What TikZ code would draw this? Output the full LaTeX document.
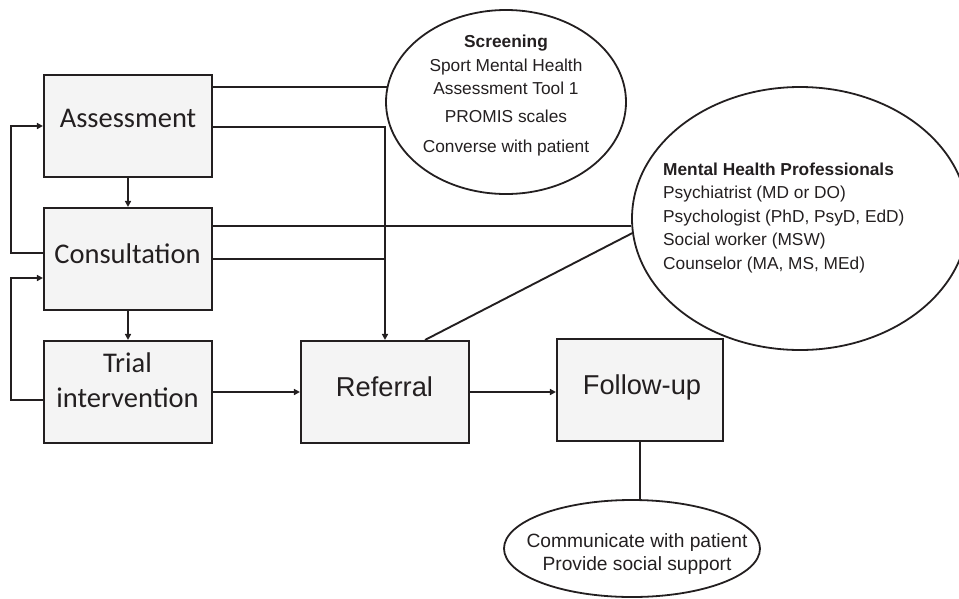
\documentclass[tikz,border=0pt]{standalone}
\usepackage{fontspec}
\setmainfont{Liberation Sans}
\newfontfamily\calfont[Ligatures={Common,Rare}]{Carlito}
\usetikzlibrary{arrows.meta,shapes.geometric,calc}
\definecolor{ln}{HTML}{231F20}
\definecolor{bx}{HTML}{F4F4F4}
\begin{document}
\begin{tikzpicture}[x=1pt,y=-1pt,
  box/.style={draw=ln,fill=bx,line width=2.1pt,inner sep=0},
  conn/.style={draw=ln,line width=1.9pt},
  arr/.style={conn,-{Triangle[length=6pt,width=6pt]}},
  oval/.style={ellipse,draw=ln,line width=1.8pt,inner sep=0},
  lbl/.style={text=ln,inner sep=0},
  boxfont/.style={font=\calfont\fontsize{28.5}{35}\selectfont},
  arialbig/.style={font=\fontsize{27.3}{33}\selectfont},
  small/.style={font=\fontsize{17.3}{23.5}\selectfont}
]
\useasboundingbox (0,0) rectangle (959,598);

% boxes
\node[box,minimum width=168,minimum height=102] (assess) at (128,126) {};
\node[box,minimum width=168,minimum height=102] (consult) at (128,259) {};
\node[box,minimum width=168,minimum height=102] (trial) at (128,392) {};
\node[box,minimum width=168,minimum height=102] (referral) at (385,392) {};
\node[box,minimum width=166,minimum height=102] (follow) at (640,390) {};

% box texts
\node[lbl,boxfont,anchor=base] (assessT) at (128,127) {Assessment};
\node[lbl,boxfont,anchor=base] (consultT) at (127.5,263) {Consultation};
\node[lbl,boxfont,anchor=base] (trialT1) at (127.5,372) {Trial};
\node[lbl,boxfont,anchor=base] (trialT2) at (127.5,407) {intervention};
\node[lbl,arialbig,anchor=base] (referralT) at (384.5,396) {Referral};
\node[lbl,arialbig,anchor=base] (followT) at (642,394) {Follow-up};

% ellipses
\node[oval,minimum width=240,minimum height=184] (screen) at (506,102) {};
\node[lbl,small,anchor=north,align=center] (screenT) at (506,35)
  {\textbf{Screening}\\Sport Mental Health\\Assessment Tool 1\\[4.5pt]PROMIS scales\\[6.5pt]Converse with patient};
\node[oval,minimum width=336,minimum height=263] (mhp) at (800,218.5) {};
\node[lbl,small,anchor=north west,align=left] (mhpT) at (663,162.5)
  {\textbf{Mental Health Professionals}\\Psychiatrist (MD or DO)\\Psychologist (PhD, PsyD, EdD)\\Social worker (MSW)\\Counselor (MA, MS, MEd)};
\node[oval,minimum width=256,minimum height=97] (bottom) at (632,548.5) {};
\node[lbl,anchor=north,align=center,font=\fontsize{19.2}{23}\selectfont] (bottomT) at (637,533)
  {Communicate with patient\\Provide social support};

% connector points
\coordinate (a1) at ($(assess.north east)+(0,13)$);
\coordinate (a2) at ($(assess.north east)+(0,53)$);
\coordinate (c1) at ($(consult.north east)+(0,19)$);
\coordinate (c3) at ($(consult.west)+(0,-6)$);
\coordinate (c4) at ($(consult.west)+(0,19)$);
\coordinate (t1) at ($(trial.west)+(0,8)$);
\coordinate (r1) at ($(referral.north)+(40,0)$);

% connectors
\draw[conn] (a1) -- (a1 -| screen.173);
\draw[arr] (a2) -| (referral.north);
\draw[conn] (consult.east) -- (consult.east -| referral.north);
\draw[conn] (c1) -- (c1 -| mhp.183);
\draw[conn] (r1) -- (mhp.185);
\draw[arr] (assess.south) -- (consult.north);
\draw[arr] (consult.south) -- (trial.north);
\draw[arr] (c3) -- ++(-32,0) |- (assess.west);
\draw[arr] (t1) -- ++(-32,0) |- (c4);
\draw[arr] (trial.east) -- (trial.east -| referral.west);
\draw[arr] (referral.east) -- (referral.east -| follow.west);
\draw[conn] (follow.south) -- (follow.south |- bottom.north);
\end{tikzpicture}
\end{document}
